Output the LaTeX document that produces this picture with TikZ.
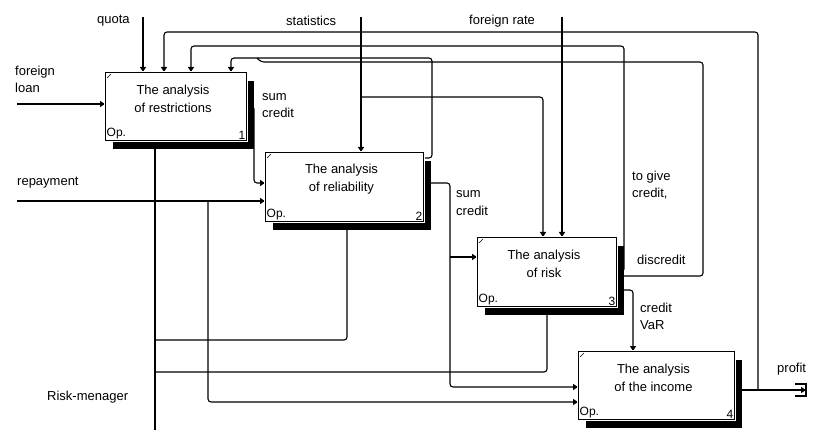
\documentclass[tikz,border=0pt]{standalone}
\usepackage{fontspec}
\setmainfont{Liberation Sans}
\usetikzlibrary{arrows.meta,backgrounds,shadows,calc}
\begin{document}
\begin{tikzpicture}[x=1pt,y=-1pt,
  font=\fontsize{13}{17.3}\selectfont,
  conn/.style={line width=1.1pt, rounded corners=3pt},
  arr/.style={conn, -{Triangle[length=5pt,width=6pt]}},
  fun/.style={draw, line width=1pt, fill=white, inner sep=0pt, anchor=north west,
    general shadow={fill=black, shadow xshift=7.5pt, shadow yshift=-8.5pt},
    preaction={draw=white, line width=3.5pt}},
  lbl/.style={anchor=west, inner sep=0pt, align=left},
  ttl/.style={align=center, inner sep=0pt},
  corner/.style={font=\fontsize{12}{14}\selectfont, inner sep=1.5pt}
]
\useasboundingbox (0,0) rectangle (819,430);

% function boxes
\node[fun, minimum width=141pt, minimum height=68pt] (b1) at (105,72) {};
\node[fun, minimum width=158pt, minimum height=69pt] (b2) at (265,152) {};
\node[fun, minimum width=139pt, minimum height=69pt] (b3) at (477,237) {};
\node[fun, minimum width=156pt, minimum height=68pt] (b4) at (578,351) {};

\foreach \b/\n/\t in {b1/1/{The analysis\\of restrictions}, b2/2/{The analysis\\of reliability}, b3/3/{The analysis\\of risk}, b4/4/{The analysis\\of the income}}{
  \node[ttl] (\b t) at ($(\b.north)+(-3,27)$) {\t};
  \node[corner, anchor=south west] (\b op) at (\b.south west) {Op.};
  \node[corner, anchor=south east] (\b n) at (\b.south east) {\n};
  \draw[line width=0.5pt] ($(\b.north west)+(2,6)$) -- ($(\b.north west)+(6,2)$);
}

% free ends
\coordinate (fl) at (17,104);
\coordinate (quota) at (143,17);
\coordinate (stat) at (361,17);
\coordinate (frate) at (562,17);
\coordinate (rep) at (17,201);
\coordinate (rm) at (155,430);
\coordinate (prof) at (806,390);
\coordinate (pj) at (758,390);

% labels
\node[lbl] (lq) at (97,21) {quota};
\node[lbl] (ls) at (286,21) {statistics};
\node[lbl] (lf) at (469,21) {foreign rate};
\node[lbl] (lfl) at (15,79.5) {foreign\\loan};
\node[lbl] (lsc1) at (262,105.5) {sum\\credit};
\node[lbl] (lrep) at (17,183) {repayment};
\node[lbl] (lsc2) at (456,203) {sum\\credit};
\node[lbl] (lgive) at (632,185) {to give\\credit,};
\node[lbl] (ldis) at (637,260) {discredit};
\node[lbl] (lvar) at (640,316.5) {credit\\VaR};
\node[lbl] (lprof) at (777,369) {profit};
\node[lbl] (lrm) at (47,397) {Risk-menager};

\begin{pgfonlayer}{background}
% inputs
\draw[arr] (fl) -- (fl -| b1.west);
\draw[arr] (quota) -- (quota |- b1.north);
\draw[arr] (stat) -- (stat |- b2.north);
\draw[arr] (361,97) -- (543,97) -- (543,0 |- b3.north);
\draw[arr] (frate) -- (frate |- b3.north);
\draw[arr] (rep) -- (rep -| b2.west);
\draw[arr] (208,201) -- (208,402) -- (208,402 -| b4.west);
% feedback from profit
\draw[arr] (pj) -- (758,32) -- (164,32) -- (164,0 |- b1.north);
% to give credit
\draw[arr] (b3.east) -| (624,46) -- (191,46) -- (191,0 |- b1.north);
% discredit
\draw[conn] (b3.east |- 0,276) -- (703,276) -- (703,62) -- (261,62) -- (257,58);
% box 2 output back to box 1
\draw[arr] (b2.east |- 0,158) -- (432,158) -- (432,58) -- (231,58) -- (231,0 |- b1.north);
% sum credit 1 -> 2
\draw[arr] (b1.east) -- (254,106) -- (254,183) -- (254,183 -| b2.west);
% sum credit 2 -> 3,4
\draw[arr] (b2.east |- 0,183) -- (450,183) -- (450,387) -- (450,387 -| b4.west);
\draw[arr] (450,257) -- (450,257 -| b3.west);
% credit VaR
\draw[arr] (b3.east |- 0,290) -- (633,290) -- (633,0 |- b4.north);
% profit
\draw[arr] (b4.east |- prof) -- (prof);
% mechanism
\draw[conn] (rm) -- (155,0 |- b1.south);
\draw[conn] (155,340) -- (347,340) -- (347,0 |- b2.south);
\draw[conn] (155,372) -- (547,372) -- (547,0 |- b3.south);
\end{pgfonlayer}
% tunnel mark at profit
\draw[line width=1.1pt] (795,384) -- (806,384) -- (806,396) -- (795,396);
\end{tikzpicture}
\end{document}
